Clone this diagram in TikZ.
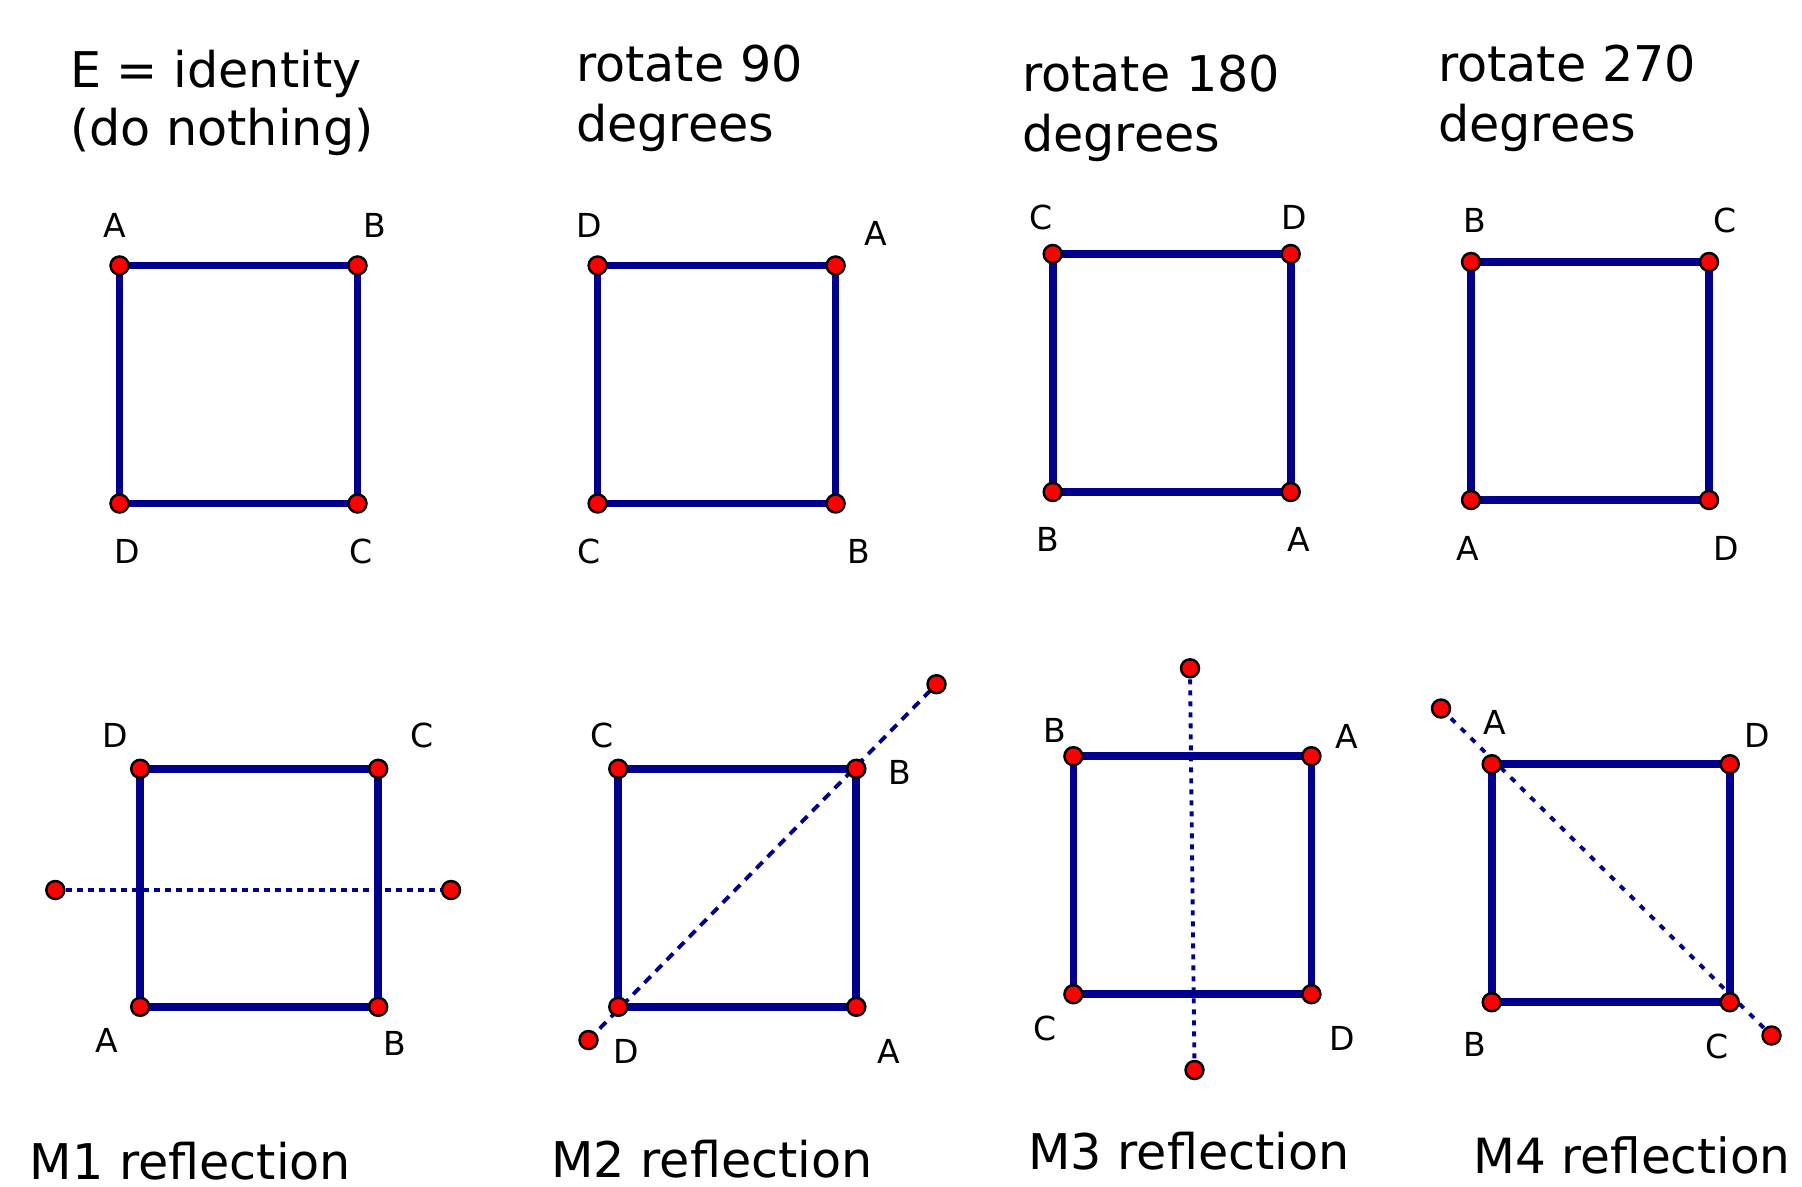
\documentclass[tikz,border=0pt]{standalone}
\usepackage{fontspec}
\setmainfont{DejaVu Sans}
\usepackage{tikz}
\definecolor{sqblue}{RGB}{0,0,140}
\definecolor{ptred}{RGB}{255,0,0}

\begin{document}
\begin{tikzpicture}[
    edge/.style={sqblue, line width=2.2pt, line cap=round},
    vtx/.style={circle, fill=ptred, draw=black, line width=0.7pt, inner sep=0pt, minimum size=0.18cm},
    mirror/.style={sqblue, line width=1.1pt},
    lbl/.style={inner sep=0pt, font=\fontsize{9.4}{11}\selectfont},
    ttl/.style={anchor=base west, inner sep=0pt, font=\fontsize{14}{17}\selectfont}
]
    \useasboundingbox (0,0) rectangle (18.02,-11.87);

    % titoli
    \node[ttl] (t-id)   at (0.695,-0.877) {E = identity};
    \node[ttl] (t-id2)  at (0.695,-1.46)  {(do nothing)};
    \node[ttl] (t-r90)  at (5.755,-0.82)  {rotate 90};
    \node[ttl] (t-r90b) at (5.755,-1.42)  {degrees};
    \node[ttl] (t-r180)  at (10.215,-0.92) {rotate 180};
    \node[ttl] (t-r180b) at (10.215,-1.52) {degrees};
    \node[ttl] (t-r270)  at (14.375,-0.82) {rotate 270};
    \node[ttl] (t-r270b) at (14.375,-1.42) {degrees};
    \node[ttl] (t-m1) at (0.29,-11.79)   {M1 reflection};
    \node[ttl] (t-m2) at (5.505,-11.77)  {M2 reflection};
    \node[ttl] (t-m3) at (10.275,-11.69) {M3 reflection};
    \node[ttl, font=\fontsize{13.8}{17}\selectfont] (t-m4) at (14.73,-11.73) {M4 reflection};

    % E: identita'
    \coordinate (idA) at (1.195,-2.655);
    \coordinate (idB) at (3.575,-2.655);
    \coordinate (idC) at (3.575,-5.035);
    \coordinate (idD) at (1.195,-5.035);
    \draw[edge] (idA) -- (idB) -- (idC) -- (idD) -- cycle;
    \node[lbl] (idA-l) at (1.149,-2.252) {A};
    \node[lbl] (idB-l) at (3.746,-2.252) {B};
    \node[lbl] (idD-l) at (1.276,-5.516) {D};
    \node[lbl] (idC-l) at (3.608,-5.516) {C};

    % rotazione 90
    \coordinate (raD) at (5.976,-2.655);
    \coordinate (raA) at (8.356,-2.655);
    \coordinate (raB) at (8.356,-5.035);
    \coordinate (raC) at (5.976,-5.035);
    \draw[edge] (raD) -- (raA) -- (raB) -- (raC) -- cycle;
    \node[lbl] (raD-l) at (5.895,-2.252) {D};
    \node[lbl] (raA-l) at (8.757,-2.333) {A};
    \node[lbl] (raC-l) at (5.895,-5.516) {C};
    \node[lbl] (raB-l) at (8.585,-5.516) {B};

    % rotazione 180
    \coordinate (rbC) at (10.527,-2.540);
    \coordinate (rbD) at (12.907,-2.540);
    \coordinate (rbA) at (12.907,-4.920);
    \coordinate (rbB) at (10.527,-4.920);
    \draw[edge] (rbC) -- (rbD) -- (rbA) -- (rbB) -- cycle;
    \node[lbl] (rbC-l) at (10.412,-2.172) {C};
    \node[lbl] (rbD-l) at (12.940,-2.172) {D};
    \node[lbl] (rbB-l) at (10.481,-5.390) {B};
    \node[lbl] (rbA-l) at (12.986,-5.390) {A};

    % rotazione 270
    \coordinate (rcB) at (14.710,-2.620);
    \coordinate (rcC) at (17.090,-2.620);
    \coordinate (rcD) at (17.090,-5.000);
    \coordinate (rcA) at (14.710,-5.000);
    \draw[edge] (rcB) -- (rcC) -- (rcD) -- (rcA) -- cycle;
    \node[lbl] (rcB-l) at (14.744,-2.206) {B};
    \node[lbl] (rcC-l) at (17.250,-2.206) {C};
    \node[lbl] (rcA-l) at (14.675,-5.482) {A};
    \node[lbl] (rcD-l) at (17.261,-5.482) {D};

    % M1: asse orizzontale
    \coordinate (maD) at (1.402,-7.688);
    \coordinate (maC) at (3.782,-7.688);
    \coordinate (maB) at (3.782,-10.068);
    \coordinate (maA) at (1.402,-10.068);
    \coordinate (maP) at (0.553,-8.900);
    \coordinate (maQ) at (4.510,-8.900);
    \draw[edge] (maD) -- (maC) -- (maB) -- (maA) -- cycle;
    \draw[mirror, dash pattern=on 0.06cm off 0.05cm] (maP) -- (maQ);
    \node[lbl] (maD-l) at (1.149,-7.355) {D};
    \node[lbl] (maC-l) at (4.218,-7.355) {C};
    \node[lbl] (maA-l) at (1.069,-10.400) {A};
    \node[lbl] (maB-l) at (3.953,-10.435) {B};

    % M2: diagonale D-B
    \coordinate (mbC) at (6.183,-7.688);
    \coordinate (mbB) at (8.563,-7.688);
    \coordinate (mbA) at (8.563,-10.068);
    \coordinate (mbD) at (6.183,-10.068);
    \coordinate (mbP) at (5.885,-10.400);
    \coordinate (mbQ) at (9.365,-6.842);
    \draw[edge] (mbC) -- (mbB) -- (mbA) -- (mbD) -- cycle;
    \draw[mirror, dash pattern=on 0.09cm off 0.07cm] (mbP) -- (mbQ);
    \node[lbl] (mbC-l) at (6.022,-7.355) {C};
    \node[lbl] (mbB-l) at (8.998,-7.723) {B};
    \node[lbl] (mbD-l) at (6.263,-10.515) {D};
    \node[lbl] (mbA-l) at (8.883,-10.515) {A};

    % M3: asse verticale
    \coordinate (mcB) at (10.734,-7.562);
    \coordinate (mcA) at (13.114,-7.562);
    \coordinate (mcD) at (13.114,-9.942);
    \coordinate (mcC) at (10.734,-9.942);
    \coordinate (mcP) at (11.900,-6.683);
    \coordinate (mcQ) at (11.945,-10.700);
    \draw[edge] (mcB) -- (mcA) -- (mcD) -- (mcC) -- cycle;
    \draw[mirror, dash pattern=on 0.05cm off 0.06cm] (mcP) -- (mcQ);
    \node[lbl] (mcB-l) at (10.550,-7.309) {B};
    \node[lbl] (mcA-l) at (13.469,-7.366) {A};
    \node[lbl] (mcC-l) at (10.446,-10.285) {C};
    \node[lbl] (mcD-l) at (13.423,-10.389) {D};

    % M4: diagonale A-C
    \coordinate (mdA) at (14.917,-7.642);
    \coordinate (mdD) at (17.297,-7.642);
    \coordinate (mdC) at (17.297,-10.022);
    \coordinate (mdB) at (14.917,-10.022);
    \coordinate (mdP) at (14.410,-7.085);
    \coordinate (mdQ) at (17.715,-10.355);
    \draw[edge] (mdA) -- (mdD) -- (mdC) -- (mdB) -- cycle;
    \draw[mirror, dash pattern=on 0.06cm off 0.08cm] (mdP) -- (mdQ);
    \node[lbl] (mdA-l) at (14.951,-7.228) {A};
    \node[lbl] (mdD-l) at (17.571,-7.355) {D};
    \node[lbl] (mdB-l) at (14.744,-10.446) {B};
    \node[lbl] (mdC-l) at (17.169,-10.469) {C};

    % punti
    \foreach \p in {idA,idB,idC,idD,raA,raB,raC,raD,rbA,rbB,rbC,rbD,rcA,rcB,rcC,rcD,
                    maA,maB,maC,maD,maP,maQ,mbA,mbB,mbC,mbD,mbP,mbQ,
                    mcA,mcB,mcC,mcD,mcP,mcQ,mdA,mdB,mdC,mdD,mdP,mdQ}
        \node[vtx] (dot-\p) at (\p) {};
\end{tikzpicture}
\end{document}
